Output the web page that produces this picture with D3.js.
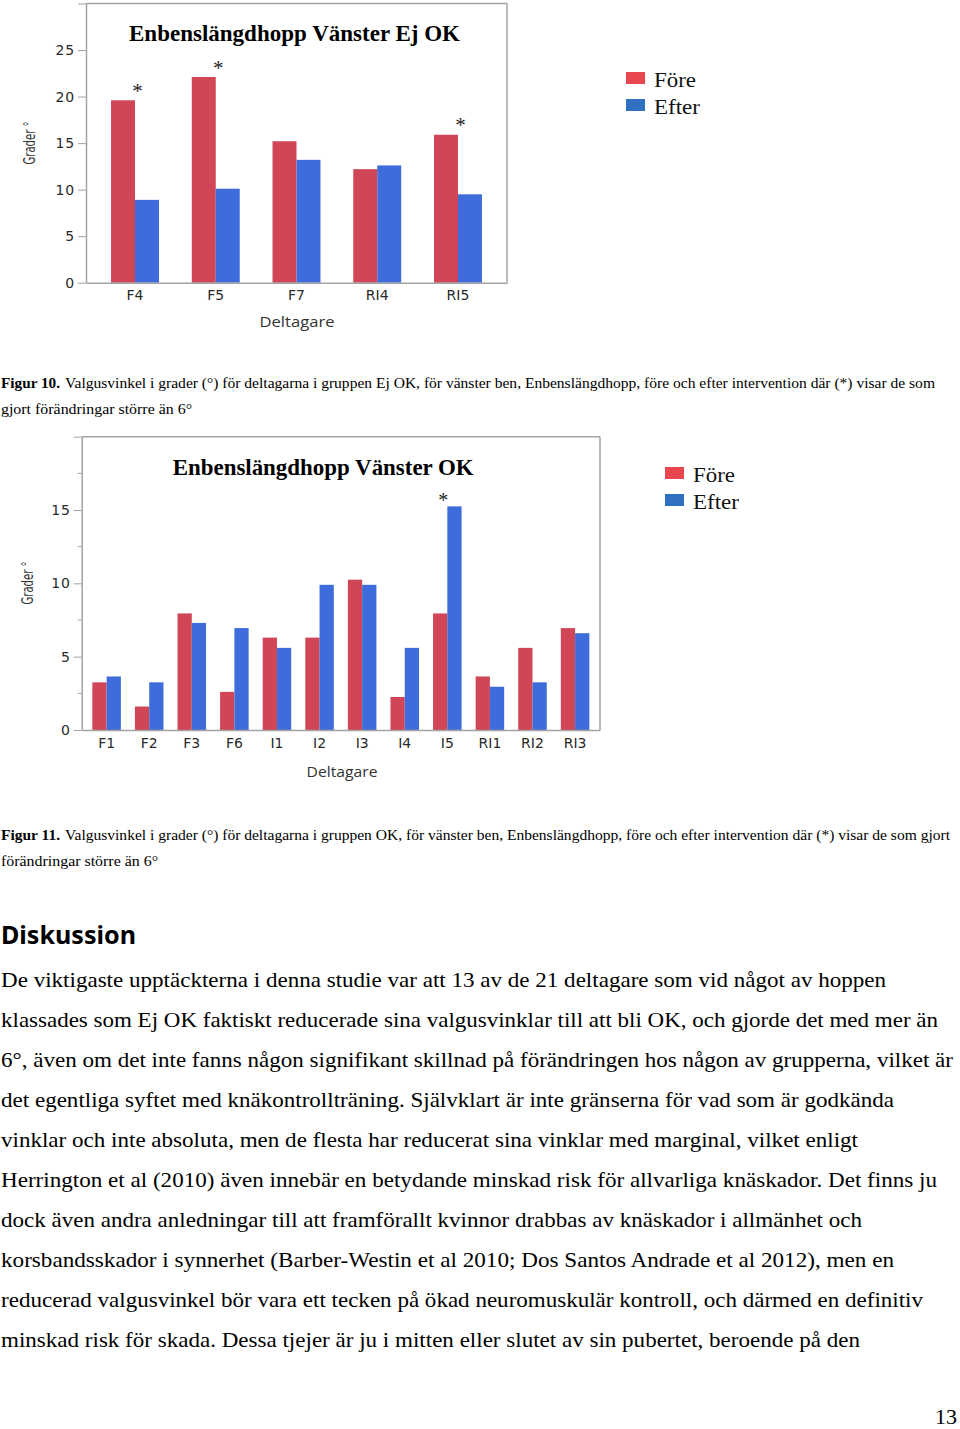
<!DOCTYPE html>
<html><head><meta charset="utf-8">
<script src="https://cdn.jsdelivr.net/npm/d3@7"></script>
<style>
html,body{margin:0;padding:0;background:#fff;}
svg{display:block;}
</style></head>
<body>
<svg id="page" width="960" height="1429"></svg>
<script>
// ---------- DATA ----------
const cats1 = ["F4","F5","F7","RI4","RI5"];
const fore1 = [19.6,22.1,15.2,12.2,15.9];
const efter1 = [8.9,10.1,13.2,12.6,9.5];
const star1 = ["F4","F5","RI5"];
const yTicks1 = [0,5,10,15,20,25,30];

const cats2 = ["F1","F2","F3","F6","I1","I2","I3","I4","I5","RI1","RI2","RI3"];
const fore2 = [3.25,1.6,7.95,2.6,6.3,6.3,10.25,2.25,7.95,3.65,5.6,6.95];
const efter2 = [3.65,3.25,7.3,6.95,5.6,9.9,9.9,5.6,15.25,2.95,3.25,6.6];
const star2 = ["I5"];
const yTicks2 = [0,5,10,15,20];
const yMinor2 = [2.5,7.5,12.5,17.5];

const seriesNames = ["Före","Efter"];
const title1 = "Enbenslängdhopp Vänster Ej OK";
const title2 = "Enbenslängdhopp Vänster OK";
const yLabel = "Grader °";
const xLabel = "Deltagare";

const caption10 = ["Figur 10.","Valgusvinkel i grader (°) för deltagarna i gruppen Ej OK, för vänster ben, Enbenslängdhopp, före och efter intervention där (*) visar de som","gjort förändringar större än 6°"];
const caption11 = ["Figur 11.","Valgusvinkel i grader (°) för deltagarna i gruppen OK, för vänster ben, Enbenslängdhopp, före och efter intervention där (*) visar de som gjort","förändringar större än 6°"];
const heading = "Diskussion";
const bodyLines = [
"De viktigaste upptäckterna i denna studie var att 13 av de 21 deltagare som vid något av hoppen",
"klassades som Ej OK faktiskt reducerade sina valgusvinklar till att bli OK, och gjorde det med mer än",
"6°, även om det inte fanns någon signifikant skillnad på förändringen hos någon av grupperna, vilket är",
"det egentliga syftet med knäkontrollträning. Självklart är inte gränserna för vad som är godkända",
"vinklar och inte absoluta, men de flesta har reducerat sina vinklar med marginal, vilket enligt",
"Herrington et al (2010) även innebär en betydande minskad risk för allvarliga knäskador. Det finns ju",
"dock även andra anledningar till att framförallt kvinnor drabbas av knäskador i allmänhet och",
"korsbandsskador i synnerhet (Barber-Westin et al 2010; Dos Santos Andrade et al 2012), men en",
"reducerad valgusvinkel bör vara ett tecken på ökad neuromuskulär kontroll, och därmed en definitiv",
"minskad risk för skada. Dessa tjejer är ju i mitten eller slutet av sin pubertet, beroende på den"
];
const bodyWidths = [885,937,952,893,857,936,861,893,922,859];
const pageNumber = "13";

// ---------- STYLE ----------
const RED = "#d04656", BLUE = "#3e6ddb";
const LRED = "#e8474f", LBLUE = "#2f70c2";
const FRAME = "#a3a3a3";
const svg = d3.select("#page");

function drawChart(cfg){
  const g = svg.append("g");
  const x = d3.scaleBand().domain(cfg.cats).range([cfg.left,cfg.right])
      .paddingInner(cfg.pi).paddingOuter(cfg.po);
  const y = d3.scaleLinear().domain([0,cfg.yMax]).range([cfg.bottom,cfg.top]);
  const half = x.bandwidth()/2;

  g.append("line").attr("x1",cfg.left).attr("x2",cfg.right).attr("y1",cfg.top).attr("y2",cfg.top)
    .attr("stroke",FRAME).attr("stroke-width",1.5);
  g.append("line").attr("x1",cfg.right).attr("x2",cfg.right).attr("y1",cfg.top).attr("y2",cfg.bottom)
    .attr("stroke",FRAME).attr("stroke-width",1.5);

  if(cfg.minor){
    g.selectAll(".minor").data(cfg.minor).join("line")
      .attr("x1",cfg.left-4).attr("x2",cfg.left).attr("y1",d=>y(d)).attr("y2",d=>y(d))
      .attr("stroke",FRAME).attr("stroke-width",1);
  }

  const rows = cfg.cats.map((c,i)=>({c, a:cfg.fore[i], b:cfg.efter[i]}));
  g.selectAll(".rb").data(rows).join("rect")
    .attr("x",d=>x(d.c)).attr("width",half)
    .attr("y",d=>y(d.a)).attr("height",d=>y(0)-y(d.a)).attr("fill",RED);
  g.selectAll(".bb").data(rows).join("rect")
    .attr("x",d=>x(d.c)+half).attr("width",half)
    .attr("y",d=>y(d.b)).attr("height",d=>y(0)-y(d.b)).attr("fill",BLUE);

  const ya = g.append("g").attr("transform",`translate(${cfg.left},0)`)
    .call(d3.axisLeft(y).tickValues(cfg.yTicks).tickSize(8).tickSizeOuter(0).tickPadding(3)
      .tickFormat(d=> d===cfg.yMax ? "" : d));
  ya.select(".domain").attr("stroke",FRAME).attr("stroke-width",1.5);
  ya.selectAll(".tick line").attr("stroke",FRAME).attr("stroke-width",1);
  ya.selectAll(".tick text").attr("font-family","DejaVu Sans, Verdana, sans-serif")
    .attr("font-size",14).attr("letter-spacing","0.8px").attr("fill","#2a2a2a");

  const xa = g.append("g").attr("transform",`translate(0,${cfg.bottom})`)
    .call(d3.axisBottom(x).tickSize(0).tickSizeOuter(0).tickPadding(cfg.xPad));
  xa.select(".domain").attr("stroke",FRAME).attr("stroke-width",1.5);
  xa.selectAll(".tick text").attr("font-family","DejaVu Sans, Verdana, sans-serif")
    .attr("font-size",14).attr("fill","#2a2a2a");

  g.selectAll(".star").data(rows.filter(r=>cfg.stars.includes(r.c))).join("text")
    .attr("x",d=>x(d.c)+half+cfg.starDx).attr("y",d=>y(Math.max(d.a,d.b))+cfg.starDy)
    .attr("text-anchor","middle").attr("font-family","Liberation Serif, Times New Roman, serif")
    .attr("font-size",cfg.starSize).attr("fill","#222").text("*");

  g.append("text").attr("x",cfg.titleX).attr("y",cfg.titleY)
    .attr("font-family","Liberation Serif, Times New Roman, serif").attr("font-weight","bold")
    .attr("font-size",24).attr("fill","#000")
    .attr("textLength",cfg.titleW).attr("lengthAdjust","spacingAndGlyphs").text(cfg.title);

  g.append("text").attr("transform",`translate(${cfg.ylx},${cfg.yly}) rotate(-90)`)
    .attr("text-anchor","middle").attr("font-family","DejaVu Sans Condensed, DejaVu Sans, sans-serif")
    .attr("font-stretch","condensed").attr("font-size",16).attr("fill","#333")
    .attr("textLength",43).attr("lengthAdjust","spacingAndGlyphs").text(yLabel);

  g.append("text").attr("x",cfg.xlx).attr("y",cfg.xly).attr("text-anchor","middle")
    .attr("font-family","Open Sans, Noto Sans, sans-serif").attr("font-size",15).attr("fill","#333")
    .attr("textLength",cfg.xlw).attr("lengthAdjust","spacingAndGlyphs").text(xLabel);

  const lg = g.append("g");
  [LRED,LBLUE].forEach((col,i)=>{
    lg.append("rect").attr("x",cfg.legX).attr("y",cfg.legY+i*27).attr("width",19).attr("height",12).attr("fill",col);
    lg.append("text").attr("x",cfg.legX+28).attr("y",cfg.legY+14.5+i*27)
      .attr("font-family","Liberation Serif, Times New Roman, serif").attr("font-size",21).attr("fill","#111")
      .attr("textLength",i===0?42:46).attr("lengthAdjust","spacingAndGlyphs").text(seriesNames[i]);
  });
}

drawChart({cats:cats1, fore:fore1, efter:efter1, stars:star1, yTicks:yTicks1, yMax:30,
  left:86, right:507, top:3.5, bottom:282.7, pi:0.406, po:0.31, xPad:7,
  starDx:2.5, starDy:-2.5, starSize:21,
  title:title1, titleX:129, titleY:41, titleW:331,
  ylx:35, yly:143, xlx:297, xly:327, xlw:75, legX:626, legY:72});

drawChart({cats:cats2, fore:fore2, efter:efter2, stars:star2, yTicks:yTicks2, minor:yMinor2, yMax:20,
  left:81.7, right:600, top:436.7, bottom:730, pi:0.33, po:0.25, xPad:8,
  starDx:-4, starDy:1, starSize:20,
  title:title2, titleX:172.7, titleY:475, titleW:301,
  ylx:33, yly:583, xlx:342, xly:777, xlw:71, legX:665, legY:467});

// ---------- captions ----------
function caption(lines, y1, w1){
  svg.append("text").attr("x",1).attr("y",y1).attr("font-family","Liberation Serif, Times New Roman, serif")
    .attr("font-weight","bold").attr("font-size",15).attr("fill","#000")
    .attr("textLength",59).attr("lengthAdjust","spacingAndGlyphs").text(lines[0]);
  svg.append("text").attr("x",65).attr("y",y1).attr("font-family","Liberation Serif, Times New Roman, serif")
    .attr("font-size",15).attr("fill","#000")
    .attr("textLength",w1).attr("lengthAdjust","spacingAndGlyphs").text(lines[1]);
}
caption(caption10, 388, 870);
svg.append("text").attr("x",1).attr("y",414).attr("font-family","Liberation Serif, Times New Roman, serif")
  .attr("font-size",15).attr("textLength",191).attr("lengthAdjust","spacingAndGlyphs").text(caption10[2]);
caption(caption11, 840, 885);
svg.append("text").attr("x",1).attr("y",866).attr("font-family","Liberation Serif, Times New Roman, serif")
  .attr("font-size",15).attr("textLength",157).attr("lengthAdjust","spacingAndGlyphs").text(caption11[2]);

// ---------- body ----------
svg.append("text").attr("x",1).attr("y",944).attr("font-family","Noto Sans, DejaVu Sans, sans-serif")
  .attr("font-weight","bold").attr("font-size",25).attr("fill","#000")
  .attr("textLength",135).attr("lengthAdjust","spacingAndGlyphs").text(heading);
svg.selectAll(".body").data(bodyLines).join("text")
  .attr("x",1).attr("y",(d,i)=>987+i*40)
  .attr("font-family","Liberation Serif, Times New Roman, serif").attr("font-size",22).attr("fill","#000")
  .attr("textLength",(d,i)=>bodyWidths[i]).attr("lengthAdjust","spacingAndGlyphs").text(d=>d);
svg.append("text").attr("x",957).attr("y",1424).attr("text-anchor","end")
  .attr("font-family","Liberation Serif, Times New Roman, serif").attr("font-size",22).text(pageNumber);
</script>
</body></html>
